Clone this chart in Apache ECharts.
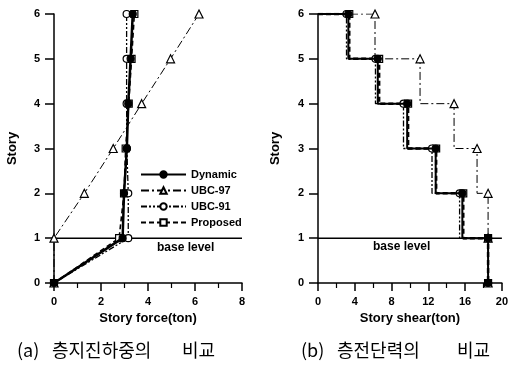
<!DOCTYPE html>
<html><head><meta charset="utf-8">
<script src="https://cdn.jsdelivr.net/npm/echarts@6/dist/echarts.min.js"></script>
<style>html,body{margin:0;padding:0;background:#fff}#c{width:511px;height:367px}</style>
</head><body><div id="c"></div>
<script>
// ---- data ----
var stories = [0, 1, 2, 3, 4, 5, 6];
var forceDynamic  = [0, 2.92, 2.98, 3.1, 3.16, 3.26, 3.35];
var forceUBC97    = [0, 0, 1.29, 2.52, 3.73, 4.96, 6.17];
var forceUBC91    = [0, 3.16, 3.16, 3.1, 3.09, 3.09, 3.09];
var forceProposed = [0, 2.77, 2.98, 3.05, 3.18, 3.3, 3.42];
// story shear, index = story (0..6)
var shearDynamic  = [18.5, 18.5, 15.7, 12.8, 9.7, 6.5, 3.3];
var shearUBC97    = [18.5, 18.5, 18.5, 17.3, 14.8, 11.1, 6.2];
var shearUBC91    = [18.5, 18.5, 15.4, 12.4, 9.3, 6.25, 3.1];
var shearProposed = [18.5, 18.5, 15.8, 12.85, 9.8, 6.65, 3.4];
var forceTicks = [0, 2, 4, 6, 8];
var shearTicks = [0, 4, 8, 12, 16, 20];
var seriesNames = ['Dynamic', 'UBC-97', 'UBC-91', 'Proposed'];

var FONT = '"Liberation Sans", Arial, sans-serif';
function pairs(xs){ return stories.map(function(s,i){ return [xs[i], s]; }); }
function stepData(v){
  var top = stories[stories.length-1];
  var pts = [{value:[0, top], symbol:'none'}];
  for (var s = top; s >= 1; s--) {
    pts.push({value:[v[s], s]});
    pts.push({value:[v[s], s-1], symbol: s === 1 ? undefined : 'none'});
  }
  return pts;
}
var styles = [
  {sym:'circle', size:7, fill:'#000', type:'solid', w:2.5},
  {sym:'triangle', size:8, fill:'#fff', type:[8,3,2,3], w:1},
  {sym:'circle', size:7, fill:'#fff', type:[6,2,2,2,2,2], w:1.3},
  {sym:'rect', size:7, fill:'#fff', type:[5,3], w:1.6}
];
var leftVals = [forceDynamic, forceUBC97, forceUBC91, forceProposed];
var rightVals = [shearDynamic, shearUBC97, shearUBC91, shearProposed];
var series = [];
seriesNames.forEach(function(n,i){
  var st = styles[i];
  series.push({name:n, type:'line', xAxisIndex:0, yAxisIndex:0, data:pairs(leftVals[i]),
    symbol:st.sym, symbolSize:st.size, showAllSymbol:true,
    itemStyle:{color:st.fill, borderColor:'#000', borderWidth:1.2},
    lineStyle:{color:'#000', width:st.w, type:st.type}, z: 10-i, animation:false});
});
[3,2,1,0].forEach(function(i){
  var st = styles[i];
  series.push({name:seriesNames[i]+' shear', type:'line', xAxisIndex:1, yAxisIndex:1, data:stepData(rightVals[i]),
    symbol:st.sym, symbolSize:st.size, showAllSymbol:true,
    itemStyle:{color:st.fill, borderColor:'#000', borderWidth:1.2},
    lineStyle:{color:'#000', width: i===3 ? 2.5 : (i===0 ? 2 : st.w), type:st.type}, z: 10-i, animation:false});
});
// base level lines
series.push({name:'base1', type:'line', xAxisIndex:0, yAxisIndex:0, data:[[0,1],[8,1]], symbol:'none',
  lineStyle:{color:'#000', width:1.5}, silent:true, animation:false});
series.push({name:'base2', type:'line', xAxisIndex:1, yAxisIndex:1, data:[[0,1],[20,1]], symbol:'none',
  lineStyle:{color:'#000', width:1.5}, silent:true, animation:false});

function xAx(idx, max, interval, name){
  return {gridIndex:idx, type:'value', min:0, max:max, interval:interval, name:name,
    nameLocation:'middle', nameGap:28,
    nameTextStyle:{fontFamily:FONT, fontWeight:'bold', fontSize:13, color:'#000'},
    axisLine:{show:true, onZero:false, lineStyle:{color:'#000', width:1.5}},
    axisTick:{show:true, length:8, lineStyle:{color:'#000', width:1.5}},
    minorTick:{show:true, splitNumber:2, length:5, lineStyle:{color:'#000', width:1.2}},
    splitLine:{show:false},
    axisLabel:{fontFamily:FONT, fontWeight:'bold', fontSize:11, color:'#000', margin:13}};
}
function yAx(idx, gap){
  return {gridIndex:idx, type:'value', min:0, max:6, interval:1, name:'Story',
    nameLocation:'middle', nameGap:gap,
    nameTextStyle:{fontFamily:FONT, fontWeight:'bold', fontSize:13, color:'#000'},
    axisLine:{show:true, onZero:false, lineStyle:{color:'#000', width:1.5}},
    axisTick:{show:true, length:9, lineStyle:{color:'#000', width:1.5}},
    splitLine:{show:false},
    axisLabel:{fontFamily:FONT, fontWeight:'bold', fontSize:11, color:'#000', margin:14}};
}
var chart = echarts.init(document.getElementById('c'), null, {renderer:'canvas'});
chart.setOption({
  backgroundColor:'#fff', animation:false,
  grid:[{left:54, top:14, width:188, height:269}, {left:318, top:14, width:185, height:269}],
  xAxis:[xAx(0, forceTicks[forceTicks.length-1], forceTicks[1]-forceTicks[0], 'Story force(ton)'),
         xAx(1, shearTicks[shearTicks.length-1], shearTicks[1]-shearTicks[0], 'Story shear(ton)')],
  yAxis:[yAx(0, 35), yAx(1, 36)],
  legend:{data:seriesNames, orient:'vertical', left:140, top:168, padding:0, itemWidth:45, itemHeight:8, itemGap:3,
    textStyle:{fontFamily:FONT, fontWeight:'bold', fontSize:11, color:'#000', lineHeight:13},
    backgroundColor:'transparent', selectedMode:false, inactiveColor:'#000'},
  graphic:[
    {type:'text', left:157, top:242, style:{text:'base level', font:'bold 12px '+FONT, fill:'#000'}},
    {type:'text', left:373, top:241, style:{text:'base level', font:'bold 12px '+FONT, fill:'#000'}},
    {type:'text', left:17, top:341, style:{text:'(a)', font:'18px "Noto Sans CJK KR", sans-serif', fill:'#000'}},
    {type:'text', left:52, top:341, style:{text:'층지진하중의', font:'18px "Noto Sans CJK KR", sans-serif', fill:'#000'}},
    {type:'text', left:182, top:341, style:{text:'비교', font:'18px "Noto Sans CJK KR", sans-serif', fill:'#000'}},
    {type:'text', left:301, top:341, style:{text:'(b)', font:'18px "Noto Sans CJK KR", sans-serif', fill:'#000'}},
    {type:'text', left:337, top:341, style:{text:'층전단력의', font:'18px "Noto Sans CJK KR", sans-serif', fill:'#000'}},
    {type:'text', left:457, top:341, style:{text:'비교', font:'18px "Noto Sans CJK KR", sans-serif', fill:'#000'}}
  ],
  series:series
});
</script></body></html>
